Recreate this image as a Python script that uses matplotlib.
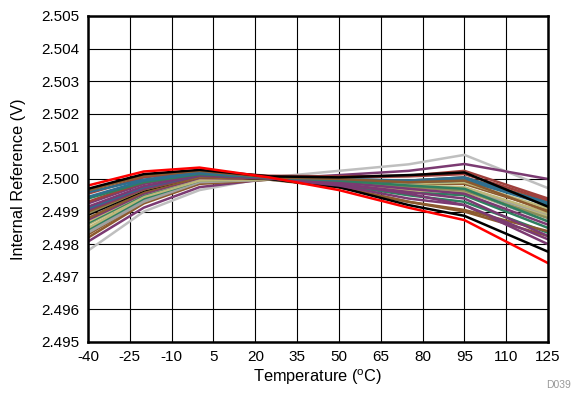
import matplotlib.pyplot as plt

plt.rcParams['font.family'] = ['Liberation Sans', 'DejaVu Sans']
plt.rcParams['mathtext.fontset'] = 'custom'
plt.rcParams['mathtext.rm'] = 'Liberation Sans'
plt.rcParams['axes.unicode_minus'] = False

temps = [-40, -20, 0, 25, 50, 75, 95, 125]

# one row per unit: (colour, readings at each temperature)
units = [
    ('#BFBFBF', [2.49780, 2.49900, 2.49966, 2.50005, 2.50025, 2.50045, 2.50074, 2.49972]),
    ('#7B3A72', [2.49808, 2.49912, 2.49975, 2.50000, 2.50012, 2.50025, 2.50046, 2.50000]),
    ('#8C5A2E', [2.49820, 2.49925, 2.49985, 2.49998, 2.49990, 2.49985, 2.49985, 2.49905]),
    ('#8C5A2E', [2.49830, 2.49930, 2.49988, 2.49998, 2.49975, 2.49930, 2.49900, 2.49825]),
    ('#A0A0A0', [2.49835, 2.49930, 2.49990, 2.49998, 2.49988, 2.49975, 2.49970, 2.49890]),
    ('#A0A0A0', [2.49840, 2.49935, 2.49992, 2.49998, 2.49985, 2.49975, 2.49965, 2.49870]),
    ('#2F7F5F', [2.49845, 2.49940, 2.49995, 2.50000, 2.49980, 2.49960, 2.49950, 2.49850]),
    ('#BDB77A', [2.49850, 2.49945, 2.49995, 2.49998, 2.49992, 2.49985, 2.49990, 2.49910]),
    ('#BDB77A', [2.49860, 2.49950, 2.50000, 2.50000, 2.49985, 2.49965, 2.49960, 2.49885]),
    ('#2F7F5F', [2.49865, 2.49952, 2.50002, 2.50000, 2.49982, 2.49950, 2.49930, 2.49835]),
    ('#BDB77A', [2.49870, 2.49955, 2.50000, 2.49999, 2.49990, 2.49980, 2.49975, 2.49895]),
    ('#7B3A72', [2.49875, 2.49955, 2.50003, 2.50000, 2.49985, 2.49955, 2.49920, 2.49800]),
    ('#8C5A2E', [2.49880, 2.49960, 2.50005, 2.50000, 2.49975, 2.49930, 2.49905, 2.49840]),
    ('#000000', [2.49890, 2.49965, 2.50010, 2.50000, 2.49975, 2.49920, 2.49887, 2.49777]),
    ('#8C8C5A', [2.49895, 2.49968, 2.50008, 2.50002, 2.49990, 2.49975, 2.49965, 2.49880]),
    ('#8C5A2E', [2.49900, 2.49968, 2.50008, 2.50002, 2.49998, 2.49995, 2.50005, 2.49930]),
    ('#7B3A72', [2.49905, 2.49970, 2.50010, 2.50002, 2.49980, 2.49940, 2.49920, 2.49815]),
    ('#2E6E8E', [2.49910, 2.49975, 2.50012, 2.50003, 2.49995, 2.49990, 2.49995, 2.49930]),
    ('#7B3A72', [2.49915, 2.49978, 2.50012, 2.50003, 2.49990, 2.49970, 2.49955, 2.49860]),
    ('#7B3A72', [2.49925, 2.49985, 2.50015, 2.50003, 2.49985, 2.49960, 2.49940, 2.49825]),
    ('#A0403C', [2.49930, 2.49990, 2.50018, 2.50008, 2.50005, 2.50008, 2.50015, 2.49935]),
    ('#2F7F5F', [2.49940, 2.49990, 2.50015, 2.50005, 2.49995, 2.49980, 2.49970, 2.49870]),
    ('#2E6E8E', [2.49945, 2.49995, 2.50018, 2.50005, 2.50000, 2.49995, 2.49998, 2.49920]),
    ('#A0403C', [2.49955, 2.50005, 2.50022, 2.50010, 2.50008, 2.50010, 2.50025, 2.49940]),
    ('#2E6E8E', [2.49960, 2.49998, 2.50020, 2.50005, 2.49998, 2.49995, 2.50005, 2.49925]),
    ('#8C5A2E', [2.49965, 2.50010, 2.50025, 2.50005, 2.50000, 2.49990, 2.49995, 2.49900]),
    ('#000000', [2.49970, 2.50015, 2.50028, 2.50008, 2.50005, 2.50012, 2.50020, 2.49915]),
    ('#FF0000', [2.49980, 2.50023, 2.50035, 2.50005, 2.49966, 2.49912, 2.49874, 2.49742]),
]

x_ticks = [-40, -25, -10, 5, 20, 35, 50, 65, 80, 95, 110, 125]
y_ticks = [2.495, 2.496, 2.497, 2.498, 2.499, 2.500, 2.501, 2.502, 2.503, 2.504, 2.505]

fig = plt.figure(figsize=(5.74, 3.95), dpi=100)
ax = fig.add_axes([0.1533, 0.1342, 0.8014, 0.8253])

for color, vals in units:
    ax.plot(temps, vals, color=color, lw=1.8, solid_joinstyle='miter')

ax.set_xlim(-40, 125)
ax.set_ylim(2.495, 2.505)
ax.set_xticks(x_ticks)
ax.set_yticks(y_ticks)
ax.set_yticklabels(['%.3f' % v for v in y_ticks])
ax.grid(True, color='black', lw=0.8)
ax.set_axisbelow(True)
ax.tick_params(length=0, labelsize=11, pad=6)
for s in ax.spines.values():
    s.set_linewidth(1.8)

ax.set_xlabel(r'Temperature ($^{\mathrm{o}}$C)', fontsize=11.8, labelpad=2)
ax.set_ylabel('Internal Reference (V)', fontsize=11.8, labelpad=11)
fig.text(0.995, 0.018, 'D039', fontsize=7.5, color='#999999', ha='right')

fig.savefig('out.png', dpi=100)
